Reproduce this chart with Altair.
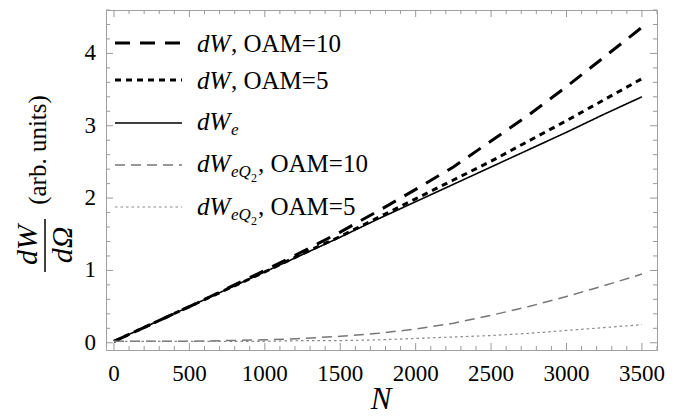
import altair as alt
import pandas as pd

# ---------------- data ----------------
N = [0, 250, 500, 750, 1000, 1250, 1500, 1750, 2000, 2250, 2500, 2750, 3000, 3250, 3500]
dW_oam10 = [0.02, 0.26, 0.50, 0.75, 1.00, 1.26, 1.53, 1.82, 2.12, 2.43, 2.79, 3.15, 3.54, 3.95, 4.36]
dW_oam5 = [0.02, 0.26, 0.50, 0.74, 0.98, 1.23, 1.47, 1.73, 1.99, 2.25, 2.51, 2.79, 3.07, 3.36, 3.65]
dW_e = [0.02, 0.26, 0.50, 0.74, 0.98, 1.22, 1.46, 1.71, 1.95, 2.19, 2.43, 2.67, 2.91, 3.16, 3.40]
dWeQ2_oam10 = [0.02, 0.02, 0.02, 0.03, 0.04, 0.06, 0.09, 0.13, 0.19, 0.27, 0.38, 0.50, 0.64, 0.79, 0.95]
dWeQ2_oam5 = [0.02, 0.02, 0.02, 0.02, 0.02, 0.03, 0.03, 0.04, 0.06, 0.08, 0.10, 0.13, 0.17, 0.21, 0.25]

x_ticks = [0, 500, 1000, 1500, 2000, 2500, 3000, 3500]
x_labels = ["0", "500", "1000", "1500", "2000", "2500", "3000", "3500"]
y_ticks = [0, 1, 2, 3, 4]
y_labels = ["0", "1", "2", "3", "4"]
x_minor = [v for v in range(0, 3601, 100) if v % 500 != 0]
y_minor = [round(v * 0.2, 1) for v in range(0, 24) if v % 5 != 0]

series_names = ["dW10", "dW5", "dWe", "dWeQ2_10", "dWeQ2_5"]
series_values = [dW_oam10, dW_oam5, dW_e, dWeQ2_oam10, dWeQ2_oam5]
series_colors = ["#000000", "#000000", "#000000", "#777777", "#888888"]
series_widths = [3.0, 3.0, 1.6, 1.5, 1.2]
series_dash = [[15, 10], [6, 5], [1, 0], [10, 6], [2.5, 3]]

# legend text pieces: (main italic, subscript, sub-subscript, roman tail)
legend_sub = ["", "", "e", "eQ", "eQ"]
legend_subsub = ["", "", "", "2", "2"]
legend_tail = [", OAM=10", ", OAM=5", "", ", OAM=10", ", OAM=5"]

# ---------------- layout ----------------
W, H = 551, 340
PL, PT = 106, 10
FONT = "Liberation Serif, Times New Roman, serif"

xscale = alt.Scale(domain=[-53, 3600], nice=False, zero=False)
yscale = alt.Scale(domain=[-0.1, 4.6], nice=False, zero=False)

one = alt.Data(values=[{"a": 1}])
layers = []

for i, (name, vals) in enumerate(zip(series_names, series_values)):
    df = pd.DataFrame({"N": N, "v": vals})
    line = alt.Chart(df).mark_line(
        color=series_colors[i], strokeWidth=series_widths[i],
        strokeDash=series_dash[i], strokeCap="butt"
    ).encode(
        x=alt.X("N:Q", scale=xscale, axis=None),
        y=alt.Y("v:Q", scale=yscale, axis=None),
    )
    layers.append(line)

# ---------------- tick labels ----------------
layers.append(alt.Chart(pd.DataFrame({"t": x_ticks, "lab": x_labels})).mark_text(
    font=FONT, fontSize=23, align="center", baseline="alphabetic", color="black"
).encode(x=alt.X("t:Q", scale=xscale, axis=None), y=alt.value(381 - PT), text="lab:N"))
layers.append(alt.Chart(pd.DataFrame({"t": y_ticks, "lab": y_labels})).mark_text(
    font=FONT, fontSize=23, align="right", baseline="middle", color="black"
).encode(y=alt.Y("t:Q", scale=yscale, axis=None), x=alt.value(96 - PL), text="lab:N"))

# ---------------- inward frame ticks ----------------
TICK_COLOR = "#999999"
for vals, size in [(x_ticks, 7), (x_minor, 4)]:
    d = pd.DataFrame({"t": vals})
    layers.append(alt.Chart(d).mark_rule(color=TICK_COLOR, strokeWidth=1).encode(
        x=alt.X("t:Q", scale=xscale, axis=None), y=alt.value(H), y2=alt.value(H - size)))
    layers.append(alt.Chart(d).mark_rule(color=TICK_COLOR, strokeWidth=1).encode(
        x=alt.X("t:Q", scale=xscale, axis=None), y=alt.value(0), y2=alt.value(size)))
for vals, size in [(y_ticks, 7), (y_minor, 4)]:
    d = pd.DataFrame({"t": vals})
    layers.append(alt.Chart(d).mark_rule(color=TICK_COLOR, strokeWidth=1).encode(
        y=alt.Y("t:Q", scale=yscale, axis=None), x=alt.value(0), x2=alt.value(size)))
    layers.append(alt.Chart(d).mark_rule(color=TICK_COLOR, strokeWidth=1).encode(
        y=alt.Y("t:Q", scale=yscale, axis=None), x=alt.value(W), x2=alt.value(W - size)))

# ---------------- legend ----------------
row_line_y = [43, 80, 123, 165, 207]
row_base_y = [52, 89, 130, 172, 215]
for i in range(5):
    ly = row_line_y[i] - PT
    by = row_base_y[i] - PT
    layers.append(alt.Chart(one).mark_rule(
        color=series_colors[i], strokeWidth=series_widths[i],
        strokeDash=series_dash[i], strokeCap="butt"
    ).encode(x=alt.value(115 - PL), x2=alt.value(182 - PL), y=alt.value(ly)))
    x0 = 197 - PL
    layers.append(alt.Chart(one).mark_text(
        text="dW", font=FONT, fontStyle="italic", fontSize=25, align="left",
        baseline="alphabetic", color="black"
    ).encode(x=alt.value(x0), y=alt.value(by)))
    xc = x0 + 34
    if legend_sub[i]:
        layers.append(alt.Chart(one).mark_text(
            text=legend_sub[i], font=FONT, fontStyle="italic", fontSize=17, align="left",
            baseline="alphabetic", color="black"
        ).encode(x=alt.value(xc), y=alt.value(by + 5)))
        xc += 8 if legend_sub[i] == "e" else 20
    if legend_subsub[i]:
        layers.append(alt.Chart(one).mark_text(
            text=legend_subsub[i], font=FONT, fontSize=12, align="left",
            baseline="alphabetic", color="black"
        ).encode(x=alt.value(xc), y=alt.value(by + 10)))
        xc += 7
    if legend_tail[i]:
        layers.append(alt.Chart(one).mark_text(
            text=legend_tail[i], font=FONT, fontSize=25, align="left",
            baseline="alphabetic", color="black"
        ).encode(x=alt.value(xc), y=alt.value(by)))

# ---------------- axis titles ----------------
layers.append(alt.Chart(one).mark_text(
    text="N", font=FONT, fontStyle="italic", fontSize=31, align="center",
    baseline="alphabetic", color="black"
).encode(x=alt.value(381 - PL), y=alt.value(409 - PT)))

layers.append(alt.Chart(one).mark_text(
    text="dW", font=FONT, fontStyle="italic", fontSize=30, align="center",
    baseline="middle", angle=270, color="black"
).encode(x=alt.value(28 - PL), y=alt.value(245 - PT)))
layers.append(alt.Chart(one).mark_text(
    text="dΩ", font=FONT, fontStyle="italic", fontSize=30, align="center",
    baseline="middle", angle=270, color="black"
).encode(x=alt.value(63 - PL), y=alt.value(245 - PT)))
layers.append(alt.Chart(one).mark_rule(color="black", strokeWidth=1.5).encode(
    x=alt.value(45 - PL), y=alt.value(219 - PT), y2=alt.value(272 - PT)))
layers.append(alt.Chart(one).mark_text(
    text="(arb. units)", font=FONT, fontSize=25, align="center",
    baseline="middle", angle=270, color="black"
).encode(x=alt.value(38 - PL), y=alt.value(150 - PT)))

chart = alt.layer(*layers).properties(
    width=W, height=H,
    autosize=alt.AutoSizeParams(type="none"),
    padding={"left": PL, "top": PT, "right": 699 - PL - W, "bottom": 416 - PT - H},
    background="white",
).configure_view(stroke="#a0a0a0", strokeWidth=1)

chart.save("out.html", embed_options={"renderer": "svg", "actions": False})
